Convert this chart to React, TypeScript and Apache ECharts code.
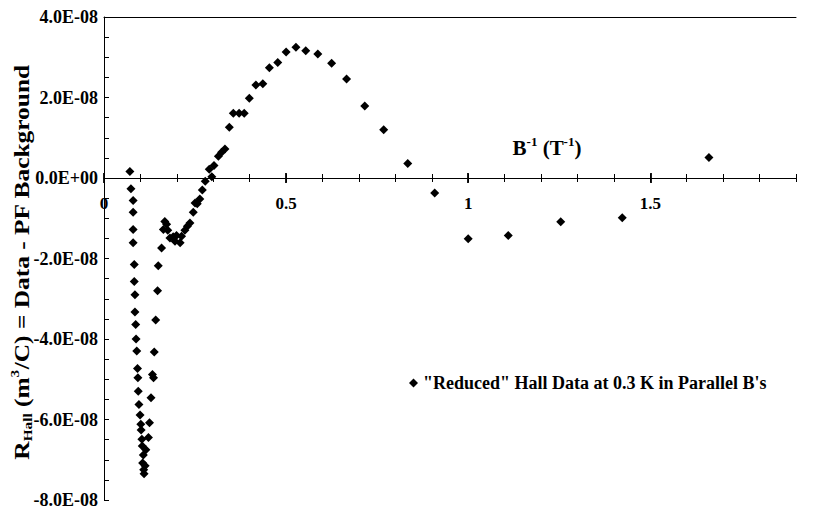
import React, { useEffect, useRef } from 'react';
import * as echarts from 'echarts';

// B^-1 (T^-1)
const invB = [
  0.071, 0.074, 0.080, 0.080, 0.080, 0.080, 0.083, 0.083, 0.085, 0.085, 0.087, 0.088, 0.090,
  0.092, 0.093, 0.094, 0.096, 0.099, 0.101, 0.102, 0.104, 0.105, 0.108, 0.106, 0.109, 0.110,
  0.113, 0.115, 0.122, 0.125, 0.129, 0.133, 0.136, 0.138, 0.142, 0.147, 0.149, 0.158, 0.163,
  0.167, 0.172, 0.175, 0.181, 0.190, 0.195, 0.199, 0.209, 0.213, 0.222, 0.229, 0.236, 0.245,
  0.250, 0.256, 0.263, 0.270, 0.278, 0.289, 0.296, 0.302, 0.314, 0.323, 0.332, 0.344, 0.355,
  0.371, 0.385, 0.399, 0.417, 0.436, 0.454, 0.477, 0.500, 0.527, 0.554, 0.587, 0.625, 0.666,
  0.716, 0.768, 0.834, 0.908, 1.0, 1.110, 1.254, 1.423, 1.661,
];
// R_Hall in units of 1E-08 m^3/C
const rHall = [
  0.16, -0.27, -0.56, -0.85, -1.28, -1.61, -2.15, -2.57, -2.90, -3.33, -3.64, -4.00, -4.30,
  -4.73, -4.96, -5.30, -5.63, -5.89, -6.12, -6.26, -6.49, -6.66, -6.88, -7.08, -7.25, -7.35,
  -7.15, -6.75, -6.45, -6.08, -5.46, -4.88, -4.96, -4.32, -3.53, -2.80, -2.18, -1.74, -1.28,
  -1.08, -1.15, -1.30, -1.49, -1.46, -1.57, -1.43, -1.61, -1.45, -1.30, -1.20, -1.12, -0.85,
  -0.62, -0.64, -0.52, -0.30, -0.08, 0.22, 0.03, 0.31, 0.54, 0.64, 0.72, 1.26, 1.61,
  1.61, 1.61, 1.98, 2.31, 2.34, 2.74, 2.87, 3.13, 3.25, 3.16, 3.08, 2.85, 2.46,
  1.79, 1.20, 0.36, -0.37, -1.51, -1.43, -1.09, -0.99, 0.51,
];
const yMin = -8;
const yMax = 4;
const xMax = 1.9;
const xLabelValues = [0, 0.5, 1, 1.5];
const seriesName = '"Reduced" Hall Data at 0.3 K in Parallel B\'s';

const FONT = '"Liberation Serif", "Times New Roman", serif';

function sci(v: number): string {
  if (Math.abs(v) < 1e-20) return '0.0E+00';
  const s = v.toExponential(1);
  const [m, e] = s.split('e');
  const en = parseInt(e, 10);
  return m + 'E' + (en < 0 ? '-' : '+') + String(Math.abs(en)).padStart(2, '0');
}

export default function App() {
  const ref = useRef<HTMLDivElement>(null);
  useEffect(() => {
    document.body.style.margin = '0';
    const H = 512;
    const chart = echarts.init(ref.current!, null, { renderer: 'svg' });
    const data = invB.map((x, i) => [x, rHall[i]]);
    const lineStyle = { color: '#000', width: 1 };
    const majorStyle = { color: '#000', width: 1.8 };
    const gridBox = { left: 104, right: 26, top: 17, bottom: 12 };
    // grid whose bottom edge is the y = 0 line, used to place the x labels under it
    const plotH = H - gridBox.top - gridBox.bottom;
    const zeroY = gridBox.top + plotH * (yMax / (yMax - yMin));
    const zeroGrid = { left: 104, right: 26, top: 17, bottom: H - zeroY };
    const hiddenY = (gridIndex: number, min: number) => ({
      type: 'value', gridIndex, min, max: yMax, show: false,
      axisLine: { show: false, onZero: false }, splitLine: { show: false },
    });
    const tickAxis = (gridIndex: number, inside: boolean, major: boolean) => ({
      type: 'value', gridIndex, min: 0, max: xMax, interval: 0.1,
      axisLine: { show: false, onZero: true },
      axisTick: major
        ? { show: true, inside, length: 5, lineStyle: majorStyle, customValues: xLabelValues }
        : { show: true, inside, length: 4, lineStyle },
      axisLabel: { show: false },
      splitLine: { show: false },
    });
    chart.setOption({
      animation: false,
      backgroundColor: '#fff',
      grid: [gridBox, gridBox, gridBox, zeroGrid, gridBox, gridBox],
      legend: {
        data: [seriesName],
        left: 404,
        top: 369,
        icon: 'diamond',
        itemWidth: 9,
        itemHeight: 9,
        itemGap: 6,
        itemStyle: { opacity: 1, color: '#000' },
        textStyle: { fontFamily: FONT, fontWeight: 'bold', fontSize: 18, color: '#000' },
      },
      xAxis: [
        {
          type: 'value', gridIndex: 0, min: 0, max: xMax, interval: 0.1,
          axisLine: { onZero: true, lineStyle },
          axisTick: { show: true, length: 4, lineStyle },
          axisLabel: { show: false },
          splitLine: { show: false },
        },
        tickAxis(1, true, false),
        {
          type: 'value', gridIndex: 2, min: 0, max: xMax, position: 'top',
          axisLine: { show: true, onZero: false, lineStyle },
          axisTick: { show: false },
          axisLabel: { show: false },
          splitLine: { show: false },
        },
        {
          type: 'value', gridIndex: 3, min: 0, max: xMax, interval: 0.1, position: 'bottom',
          axisLine: { show: false, onZero: false },
          axisTick: { show: false },
          axisLabel: {
            margin: 17,
            fontFamily: FONT, fontWeight: 'bold', fontSize: 17, color: '#000',
            formatter: (v: number) => {
              const r = Math.round(v * 10) / 10;
              return xLabelValues.some((t) => Math.abs(t - r) < 1e-6) ? String(r) : '';
            },
          },
          splitLine: { show: false },
        },
        tickAxis(4, true, true),
        tickAxis(5, false, true),
      ],
      yAxis: [
        {
          type: 'value', gridIndex: 0, min: yMin, max: yMax, interval: 0.5,
          axisLine: { show: true, onZero: false, lineStyle },
          axisTick: { show: true, inside: true, length: 5, lineStyle },
          axisLabel: {
            margin: 6,
            fontFamily: FONT, fontWeight: 'bold', fontSize: 18, color: '#000',
            formatter: (v: number) => {
              const r = v / 2;
              return Math.abs(r - Math.round(r)) < 1e-6 ? sci(Math.round(r) * 2 * 1e-8) : '';
            },
          },
          splitLine: { show: false },
        },
        hiddenY(1, yMin),
        hiddenY(2, yMin),
        hiddenY(3, 0),
        hiddenY(4, yMin),
        hiddenY(5, yMin),
      ],
      graphic: [
        {
          type: 'text',
          x: 547,
          y: 148,
          style: {
            text: '{b|B}{sup|-1}{b| (T}{sup|-1}{b|)}',
            align: 'center',
            verticalAlign: 'middle',
            rich: {
              b: { fontFamily: FONT, fontWeight: 'bold', fontSize: 21, fill: '#000', lineHeight: 26 },
              sup: { fontFamily: FONT, fontWeight: 'bold', fontSize: 13, fill: '#000', lineHeight: 13, verticalAlign: 'top' },
            },
          },
        },
        {
          type: 'text',
          x: 22,
          y: 262,
          rotation: Math.PI / 2,
          scaleX: 1.27,
          style: {
            text: '{b|R}{sub|Hall}{b| (m}{sup|3}{b|/C) = Data - PF Background}',
            align: 'center',
            verticalAlign: 'middle',
            rich: {
              b: { fontFamily: FONT, fontWeight: 'bold', fontSize: 20, fill: '#000', lineHeight: 25 },
              sub: { fontFamily: FONT, fontWeight: 'bold', fontSize: 12, fill: '#000', lineHeight: 12, verticalAlign: 'bottom' },
              sup: { fontFamily: FONT, fontWeight: 'bold', fontSize: 12, fill: '#000', lineHeight: 12, verticalAlign: 'top' },
            },
          },
        },
      ],
      series: [
        {
          name: seriesName,
          type: 'scatter',
          xAxisIndex: 0,
          yAxisIndex: 0,
          symbol: 'diamond',
          symbolSize: 9,
          itemStyle: { color: '#000', opacity: 1 },
          data,
        },
      ],
    });
    return () => chart.dispose();
  }, []);
  return <div ref={ref} style={{ width: 822, height: 512 }} />;
}
